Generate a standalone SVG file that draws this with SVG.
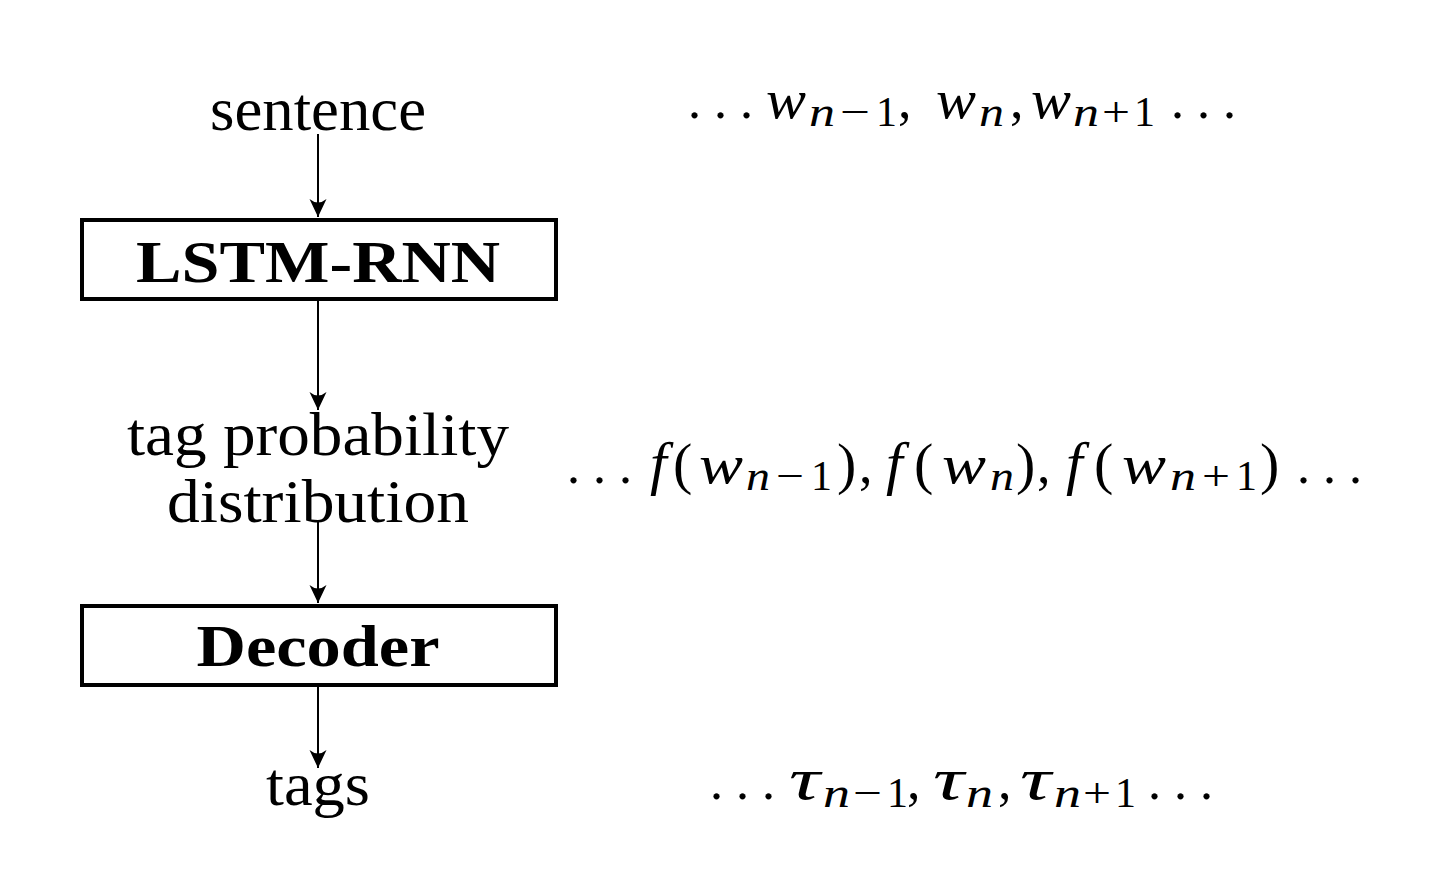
<svg xmlns="http://www.w3.org/2000/svg" width="1450" height="888" viewBox="0 0 1450 888">
<style>
.t{font-family:"Liberation Serif",serif;font-size:62px;fill:#000;text-anchor:middle}
.b{font-weight:bold;font-size:60px}
.box{fill:#fff;stroke:#000;stroke-width:4}
.con{stroke:#000;stroke-width:2;fill:none}
.m{font-family:"Liberation Serif",serif;font-size:54px;fill:#000;font-style:italic}
.u{font-style:normal}
.p{font-size:58px}
.f{font-size:60px}
.s{font-size:42px}
.d{font-style:normal;font-size:52px;letter-spacing:13px}
</style>
<defs>
<marker id="arr" markerUnits="userSpaceOnUse" markerWidth="26" markerHeight="26" viewBox="-22 -13 26 26" refX="0" refY="0" orient="auto">
<path d="M0,0 L-18,-8.5 Q-11,0 -18,8.5 Z" fill="#000"/>
</marker>
</defs>
<rect width="1450" height="888" fill="#fff"/>
<g id="connectors">
<line class="con" x1="318" y1="134" x2="318" y2="217" marker-end="url(#arr)"/>
<line class="con" x1="318" y1="301" x2="318" y2="410" marker-end="url(#arr)"/>
<line class="con" x1="318" y1="520" x2="318" y2="603" marker-end="url(#arr)"/>
<line class="con" x1="318" y1="687" x2="318" y2="768" marker-end="url(#arr)"/>
</g>
<g id="sentence"><text class="t" x="318" y="130" textLength="216" lengthAdjust="spacingAndGlyphs">sentence</text></g>
<g id="lstm"><rect class="box" x="82" y="220" width="474" height="79"/><text class="t b" x="318" y="282" textLength="364" lengthAdjust="spacingAndGlyphs">LSTM-RNN</text></g>
<g id="tagprob"><text class="t" x="318" y="455" textLength="382" lengthAdjust="spacingAndGlyphs">tag probability</text><text class="t" x="318" y="522" textLength="302" lengthAdjust="spacingAndGlyphs">distribution</text></g>
<g id="decoder"><rect class="box" x="82" y="606" width="474" height="79"/><text class="t b" x="318" y="666" textLength="243" lengthAdjust="spacingAndGlyphs">Decoder</text></g>
<g id="tags"><text class="t" x="318" y="805" textLength="104" lengthAdjust="spacingAndGlyphs">tags</text></g>
<g id="words">
<text class="m d" x="688" y="118">...</text>
<text class="m" x="766" y="118" textLength="40" lengthAdjust="spacingAndGlyphs">w</text>
<text class="m s" x="809" y="126" textLength="26" lengthAdjust="spacingAndGlyphs">n</text>
<text class="m s u" x="840" y="126" textLength="30" lengthAdjust="spacingAndGlyphs">−</text>
<text class="m s u" x="876" y="126">1</text>
<text class="m u" x="898" y="118">,</text>
<text class="m" x="936" y="118" textLength="40" lengthAdjust="spacingAndGlyphs">w</text>
<text class="m s" x="979" y="126" textLength="25" lengthAdjust="spacingAndGlyphs">n</text>
<text class="m u" x="1010" y="118">,</text>
<text class="m" x="1031" y="118" textLength="40" lengthAdjust="spacingAndGlyphs">w</text>
<text class="m s" x="1073" y="126" textLength="26" lengthAdjust="spacingAndGlyphs">n</text>
<text class="m s u" x="1102" y="126" textLength="28" lengthAdjust="spacingAndGlyphs">+</text>
<text class="m s u" x="1134" y="126">1</text>
<text class="m d" x="1171" y="118">...</text>
</g>
<g id="probs">
<text class="m d" x="567" y="483">...</text>
<text class="m f" x="650" y="483">f</text>
<text class="m u p" x="673" y="483">(</text>
<text class="m" x="699" y="483" textLength="44" lengthAdjust="spacingAndGlyphs">w</text>
<text class="m s" x="746" y="490" textLength="24" lengthAdjust="spacingAndGlyphs">n</text>
<text class="m s u" x="776" y="490" textLength="28" lengthAdjust="spacingAndGlyphs">−</text>
<text class="m s u" x="811" y="490">1</text>
<text class="m u p" x="837" y="483">)</text>
<text class="m u" x="859" y="483">,</text>
<text class="m f" x="886" y="483">f</text>
<text class="m u p" x="914" y="483">(</text>
<text class="m" x="942" y="483" textLength="44" lengthAdjust="spacingAndGlyphs">w</text>
<text class="m s" x="990" y="490" textLength="24" lengthAdjust="spacingAndGlyphs">n</text>
<text class="m u p" x="1016" y="483">)</text>
<text class="m u" x="1037" y="483">,</text>
<text class="m f" x="1066" y="483">f</text>
<text class="m u p" x="1094" y="483">(</text>
<text class="m" x="1122" y="483" textLength="44" lengthAdjust="spacingAndGlyphs">w</text>
<text class="m s" x="1170" y="490" textLength="26" lengthAdjust="spacingAndGlyphs">n</text>
<text class="m s u" x="1202" y="490" textLength="28" lengthAdjust="spacingAndGlyphs">+</text>
<text class="m s u" x="1236" y="490">1</text>
<text class="m u p" x="1260" y="483">)</text>
<text class="m d" x="1297" y="483">...</text>
</g>
<g id="taus">
<text class="m d" x="710" y="799">...</text>
<text class="m f" x="789" y="799" textLength="31" lengthAdjust="spacingAndGlyphs">τ</text>
<text class="m s" x="823" y="807" textLength="27" lengthAdjust="spacingAndGlyphs">n</text>
<text class="m s u" x="853" y="807" textLength="29" lengthAdjust="spacingAndGlyphs">−</text>
<text class="m s u" x="887" y="807">1</text>
<text class="m u" x="907" y="799">,</text>
<text class="m f" x="933" y="799" textLength="31" lengthAdjust="spacingAndGlyphs">τ</text>
<text class="m s" x="966" y="807" textLength="27" lengthAdjust="spacingAndGlyphs">n</text>
<text class="m u" x="998" y="799">,</text>
<text class="m f" x="1020" y="799" textLength="31" lengthAdjust="spacingAndGlyphs">τ</text>
<text class="m s" x="1054" y="807" textLength="27" lengthAdjust="spacingAndGlyphs">n</text>
<text class="m s u" x="1083" y="807" textLength="28" lengthAdjust="spacingAndGlyphs">+</text>
<text class="m s u" x="1115" y="807">1</text>
<text class="m d" x="1148" y="799">...</text>
</g>
</svg>
